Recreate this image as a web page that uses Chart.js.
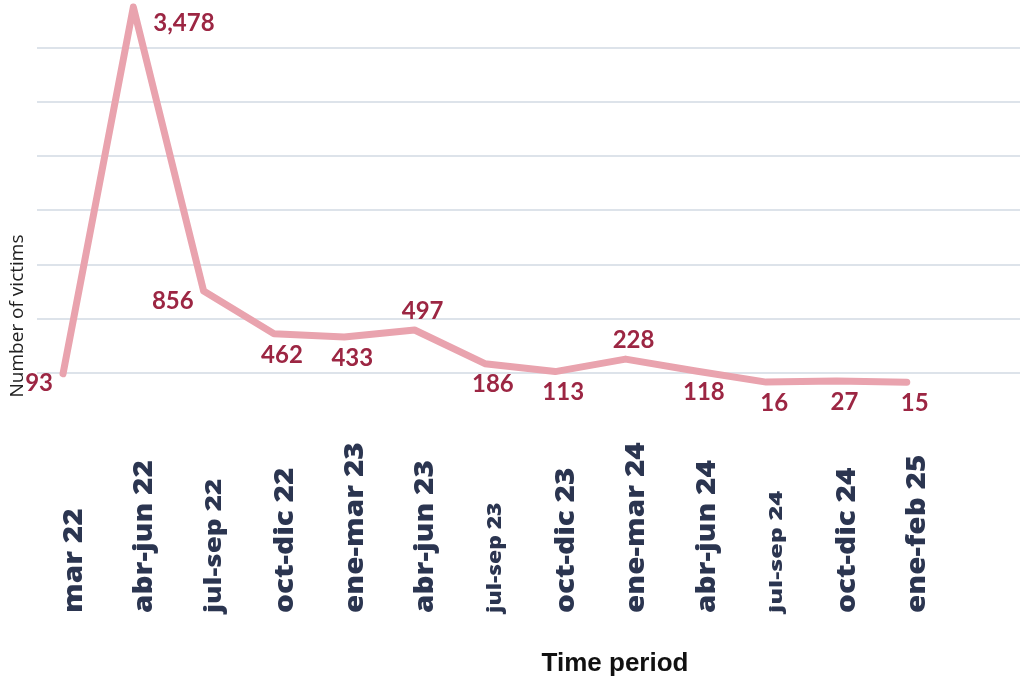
<!DOCTYPE html>
<html>
<head>
<meta charset="utf-8">
<title>Number of victims by time period</title>
<script src="https://cdn.jsdelivr.net/npm/chart.js@4"></script>
<style>
  html, body { margin: 0; padding: 0; background: #ffffff; }
  #wrap { position: relative; width: 1026px; height: 679px; }
</style>
</head>
<body>
<div id="wrap"><canvas id="chart"></canvas></div>
<script>
// Reporting periods and victim counts
const periods = [
  'mar 22', 'abr-jun 22', 'jul-sep 22', 'oct-dic 22', 'ene-mar 23', 'abr-jun 23',
  'jul-sep 23', 'oct-dic 23', 'ene-mar 24', 'abr-jun 24', 'jul-sep 24', 'oct-dic 24', 'ene-feb 25'
];
const victims = [93, 3478, 856, 462, 433, 497, 186, 113, 228, 118, 16, 27, 15];

// Values where horizontal guide lines are drawn (no tick text shown)
const gridValues = [100, 600, 1100, 1600, 2100, 2600, 3100];

// Where each value label sits relative to its point
const labelPlacement = ['left', 'right', 'left', 'below', 'below', 'above',
  'below', 'below', 'above', 'below', 'below', 'below', 'below'];

// Period label typography: font size and horizontal stretch along the text
const bigLabel = { size: 27, stretch: 1.1 };
const periodLabelStyle = periods.map(p => {
  if (p === 'jul-sep 22') return { size: 22, stretch: 1.26 };
  if (p === 'jul-sep 23') return { size: 19, stretch: 1.2 };
  if (p === 'jul-sep 24') return { size: 18, stretch: 1.4 };
  return bigLabel;
});

const LABEL_RED = '#9c2643';
const AXIS_TEXT = '#2b3550';

const valueLabels = {
  id: 'valueLabels',
  afterDatasetsDraw(chart) {
    const ctx = chart.ctx;
    const meta = chart.getDatasetMeta(0);
    ctx.save();
    ctx.fillStyle = LABEL_RED;
    ctx.font = 'bold 24px Lato, "Open Sans", sans-serif';
    meta.data.forEach((pt, i) => {
      const text = victims[i].toLocaleString('en-US');
      const where = labelPlacement[i];
      let x = pt.x, y = pt.y;
      ctx.textBaseline = 'middle';
      if (where === 'left') {
        ctx.textAlign = 'right';
        x -= 10; y += 10;
      } else if (where === 'right') {
        ctx.textAlign = 'left';
        x += 20; y += 16;
      } else if (where === 'above') {
        ctx.textAlign = 'center';
        x += 8; y -= 19;
      } else {
        ctx.textAlign = 'center';
        x += 8; y += 21;
      }
      ctx.fillText(text, x, y);
    });
    ctx.restore();
  }
};

const axisText = {
  id: 'axisText',
  afterDraw(chart) {
    const ctx = chart.ctx;
    const xs = chart.scales.x;
    ctx.save();
    // vertical period labels, starting at the bottom and reading upwards
    ctx.fillStyle = AXIS_TEXT;
    periods.forEach((p, i) => {
      const st = periodLabelStyle[i];
      const x = xs.getPixelForValue(i) + 11;
      ctx.save();
      ctx.translate(x, 613);
      ctx.rotate(-Math.PI / 2);
      ctx.scale(st.stretch, 1);
      ctx.font = '800 ' + st.size + 'px "Open Sans", sans-serif';
      ctx.textAlign = 'left';
      ctx.textBaseline = 'middle';
      ctx.fillText(p, 0, 0);
      ctx.restore();
    });
    // axis titles
    ctx.fillStyle = '#111111';
    ctx.font = 'bold 26px "Liberation Sans", Arial, sans-serif';
    ctx.textAlign = 'center';
    ctx.textBaseline = 'middle';
    ctx.fillText('Time period', 615, 664);

    ctx.save();
    ctx.translate(18, 316);
    ctx.rotate(-Math.PI / 2);
    ctx.fillStyle = '#222222';
    ctx.font = '19px "Open Sans", sans-serif';
    ctx.fillText('Number of victims', 0, 0);
    ctx.restore();
    ctx.restore();
  }
};

new Chart(document.getElementById('chart'), {
  type: 'line',
  data: {
    datasets: [{
      data: victims.map((v, i) => ({ x: i, y: v })),
      borderColor: '#e9a3ae',
      borderWidth: 7,
      tension: 0,
      pointRadius: 0,
      pointHoverRadius: 0,
      borderJoinStyle: 'round',
      borderCapStyle: 'round',
      clip: false,
      fill: false
    }]
  },
  options: {
    responsive: true,
    maintainAspectRatio: false,
    animation: false,
    events: [],
    layout: { padding: { left: 37, right: 6, top: 0, bottom: 259 } },
    plugins: { legend: { display: false }, tooltip: { enabled: false }, title: { display: false } },
    scales: {
      x: {
        type: 'linear',
        display: false,
        min: -0.37,
        max: 13.61
      },
      y: {
        type: 'linear',
        min: -334,
        max: 3543,
        afterBuildTicks(scale) {
          scale.ticks = gridValues.map(v => ({ value: v }));
        },
        ticks: { display: false },
        border: { display: false },
        grid: { color: '#dde3ea', lineWidth: 2, drawTicks: false }
      }
    }
  },
  plugins: [valueLabels, axisText]
});
</script>
</body>
</html>
